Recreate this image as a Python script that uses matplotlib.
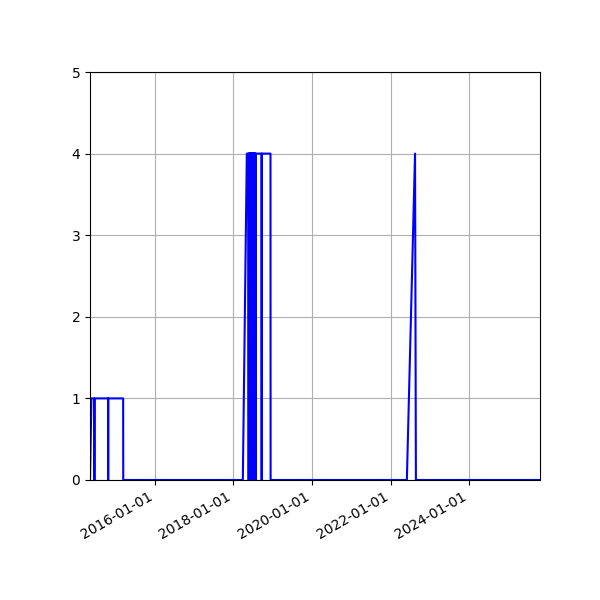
import matplotlib
matplotlib.use("Agg")
import matplotlib.pyplot as plt
import matplotlib.dates as mdates
import pandas as pd

dates = [
    "2014-05-10", "2014-05-23", "2014-06-19", "2014-06-20", "2014-06-21",
    "2014-10-25", "2014-10-26", "2014-10-27", "2015-03-14", "2015-03-15",
    "2018-03-30", "2018-05-06", "2018-05-22",
    "2018-05-23", "2018-05-25", "2018-05-27", "2018-05-29", "2018-05-31",
    "2018-06-02", "2018-06-04", "2018-06-06", "2018-06-08", "2018-06-10",
    "2018-06-12", "2018-06-14", "2018-06-16", "2018-06-18", "2018-06-20",
    "2018-06-22", "2018-06-24", "2018-06-26", "2018-06-28", "2018-06-30",
    "2018-07-02", "2018-07-04", "2018-07-06", "2018-07-08", "2018-07-10",
    "2018-07-12", "2018-07-14", "2018-07-16", "2018-07-18", "2018-07-20",
    "2018-07-22", "2018-07-24", "2018-07-26", "2018-07-27",
    "2018-09-20", "2018-09-21", "2018-09-22", "2018-12-12", "2018-12-13",
    "2022-06-01", "2022-08-16", "2022-08-24", "2025-10-20",
]
values = [
    0, 1, 1, 0, 1,
    1, 0, 1, 1, 0,
    0, 4, 4,
    0, 4, 0, 4, 0,
    4, 0, 4, 0, 4,
    0, 4, 0, 4, 0,
    4, 0, 4, 0, 4,
    0, 4, 0, 4, 0,
    4, 0, 4, 0, 4,
    0, 4, 0, 4,
    4, 0, 4, 4, 0,
    0, 4, 0, 0,
]
tick_dates = ["2016-01-01", "2018-01-01", "2020-01-01", "2022-01-01", "2024-01-01"]

x = pd.to_datetime(dates)
fig = plt.figure(figsize=(6, 6), dpi=100)
ax = fig.add_subplot(111)
ax.plot(x, values, color="blue", linewidth=1.5)
ax.set_xlim(x.min(), x.max())
ax.set_ylim(0, 5)
ax.set_xticks(pd.to_datetime(tick_dates))
ax.xaxis.set_major_formatter(mdates.DateFormatter("%Y-%m-%d"))
ax.grid(True)
fig.autofmt_xdate()
fig.subplots_adjust(left=0.15, right=0.9, top=0.88, bottom=0.2)
fig.savefig("out.png", dpi=100)
